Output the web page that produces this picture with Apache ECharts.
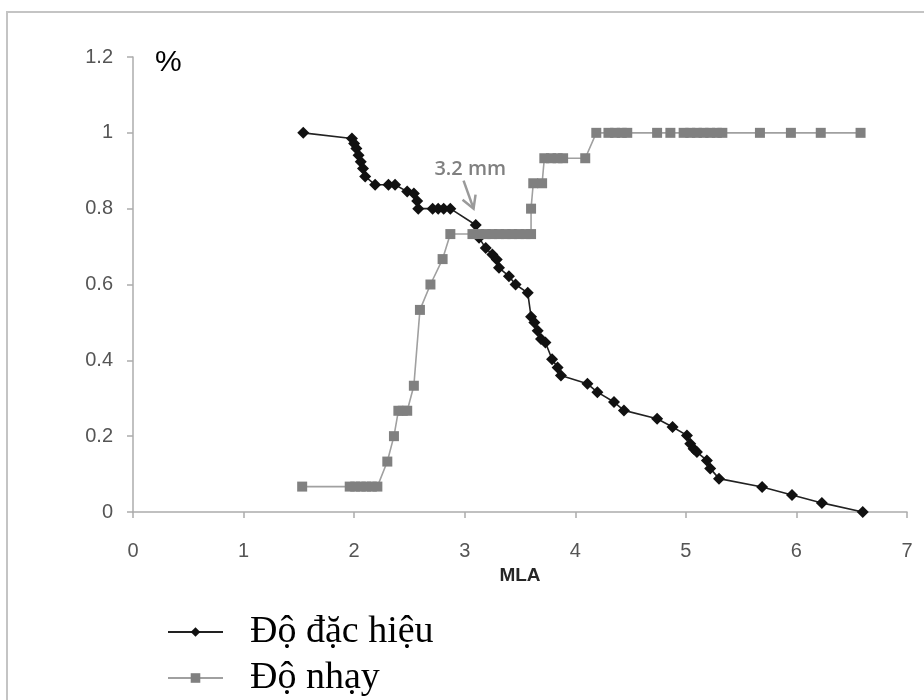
<!DOCTYPE html>
<html>
<head>
<meta charset="utf-8">
<script src="https://cdn.jsdelivr.net/npm/echarts@6/dist/echarts.min.js"></script>
<style>
  html, body { margin: 0; padding: 0; background: #fff; }
  #chart { width: 924px; height: 700px; }
</style>
</head>
<body>
<div id="chart"></div>
<script>
// MLA cut-off values (mm) and the corresponding specificity / sensitivity
const specificityMLA = [1.54, 1.98, 2.00, 2.02, 2.04, 2.06, 2.08, 2.10, 2.19, 2.31, 2.37, 2.48, 2.54, 2.57, 2.58,
  2.71, 2.76, 2.81, 2.87, 3.10, 3.13, 3.19, 3.25, 3.29, 3.31, 3.40, 3.46, 3.57, 3.60, 3.63, 3.66, 3.69, 3.73,
  3.79, 3.84, 3.87, 4.11, 4.20, 4.35, 4.44, 4.74, 4.88, 5.01, 5.04, 5.07, 5.10, 5.19, 5.22, 5.30, 5.69, 5.96,
  6.23, 6.60];
const specificity = [1.0, 0.985, 0.972, 0.959, 0.941, 0.924, 0.906, 0.885, 0.863, 0.863, 0.863, 0.845, 0.84, 0.82, 0.80,
  0.80, 0.80, 0.80, 0.80, 0.757, 0.723, 0.696, 0.679, 0.666, 0.644, 0.622, 0.60, 0.578, 0.515, 0.50, 0.478, 0.456, 0.447,
  0.403, 0.381, 0.36, 0.338, 0.316, 0.29, 0.268, 0.246, 0.224, 0.202, 0.18, 0.167, 0.158, 0.136, 0.115, 0.088, 0.066, 0.045,
  0.024, 0.0];

const sensitivityMLA = [1.53, 1.96, 2.01, 2.06, 2.11, 2.16, 2.21, 2.30, 2.36, 2.40, 2.44, 2.48, 2.54, 2.595, 2.69,
  2.80, 2.87, 3.07, 3.13, 3.19, 3.25, 3.31, 3.37, 3.43, 3.49, 3.55, 3.60, 3.60, 3.62, 3.70, 3.72, 3.78, 3.84,
  3.89, 4.09, 4.19, 4.30, 4.36, 4.42, 4.47, 4.74, 4.86, 4.98, 5.04, 5.10, 5.16, 5.22, 5.28, 5.33, 5.67, 5.95,
  6.22, 6.58];
const sensitivity = [0.067, 0.067, 0.067, 0.067, 0.067, 0.067, 0.067, 0.133, 0.20, 0.267, 0.267, 0.267, 0.333, 0.533, 0.60,
  0.667, 0.733, 0.733, 0.733, 0.733, 0.733, 0.733, 0.733, 0.733, 0.733, 0.733, 0.733, 0.80, 0.867, 0.867, 0.933, 0.933, 0.933,
  0.933, 0.933, 1, 1, 1, 1, 1, 1, 1, 1, 1, 1, 1, 1, 1, 1, 1, 1,
  1, 1];

const seriesNames = ['Độ đặc hiệu', 'Độ nhạy'];
const xTicks = { min: 0, max: 7, interval: 1 };
const yTicks = { min: 0, max: 1.2, interval: 0.2 };
const cutoff = { label: '3.2 mm', x: 3.05, yText: 0.905, yTip: 0.80 };

const pairs = (xs, ys) => xs.map((x, i) => [x, ys[i]]);

const chart = echarts.init(document.getElementById('chart'));
const axisGray = '#acacac';
const labelGray = '#555555';

chart.setOption({
  animation: false,
  backgroundColor: '#fff',
  grid: { left: 133, right: 17, top: 57, bottom: 188 },
  xAxis: {
    type: 'value',
    min: xTicks.min, max: xTicks.max, interval: xTicks.interval,
    name: 'MLA',
    nameLocation: 'middle',
    nameGap: 54,
    nameTextStyle: { fontFamily: 'Liberation Sans', fontWeight: 'bold', fontSize: 19, color: '#262626' },
    axisLine: { show: true, lineStyle: { color: axisGray, width: 1.5 } },
    axisTick: { show: true, length: 6, lineStyle: { color: axisGray, width: 1.5 } },
    axisLabel: { margin: 29, fontFamily: 'Liberation Sans', fontSize: 20, color: labelGray },
    splitLine: { show: false }
  },
  yAxis: {
    type: 'value',
    min: yTicks.min, max: yTicks.max, interval: yTicks.interval,
    axisLine: { show: true, lineStyle: { color: axisGray, width: 1.5 } },
    axisTick: { show: true, length: 6, lineStyle: { color: axisGray, width: 1.5 } },
    axisLabel: { margin: 20, fontFamily: 'Liberation Sans', fontSize: 20, color: labelGray },
    splitLine: { show: false }
  },
  legend: {
    orient: 'vertical',
    left: 167,
    top: 613,
    padding: 0,
    itemWidth: 55,
    itemHeight: 12,
    itemGap: 8,
    textStyle: {
      fontFamily: 'Liberation Serif', fontSize: 38, lineHeight: 38, color: '#000',
      padding: [0, 0, 0, 22]
    },
    data: seriesNames
  },
  series: [
    {
      name: seriesNames[0],
      type: 'line',
      data: pairs(specificityMLA, specificity),
      symbol: 'diamond',
      symbolSize: 12,
      itemStyle: { color: '#111' },
      lineStyle: { color: '#222', width: 1.6 },
      z: 2
    },
    {
      name: seriesNames[1],
      type: 'line',
      data: pairs(sensitivityMLA, sensitivity),
      symbol: 'rect',
      symbolSize: 10,
      itemStyle: { color: '#808080' },
      lineStyle: { color: '#a0a0a0', width: 1.6 },
      z: 3
    }
  ]
});

// Frame, the "%" unit label and the cut-off annotation
const textPt = chart.convertToPixel({ gridIndex: 0 }, [cutoff.x, cutoff.yText]);
const tipPt = chart.convertToPixel({ gridIndex: 0 }, [cutoff.x + 0.03, cutoff.yTip]);
const topPt = chart.convertToPixel({ gridIndex: 0 }, [xTicks.min, yTicks.max]);
const tailX = tipPt[0] - 10, tailY = tipPt[1] - 28;

chart.setOption({
  graphic: [
    {
      type: 'rect', silent: true, z: -1,
      shape: { x: 7, y: 12, width: 940, height: 720 },
      style: { fill: 'none', stroke: '#c4c4c4', lineWidth: 2 }
    },
    {
      type: 'text',
      x: topPt[0] + 22, y: topPt[1] + 6,
      style: { text: '%', fontFamily: 'Liberation Sans', fontSize: 30, fill: '#000', verticalAlign: 'middle' }
    },
    {
      type: 'text',
      x: textPt[0], y: textPt[1],
      style: { text: cutoff.label, fontFamily: 'Open Sans', fontSize: 20, fontWeight: 600, fill: '#808080', align: 'center', verticalAlign: 'middle' }
    },
    {
      type: 'polyline',
      shape: { points: [[tailX, tailY], [tipPt[0], tipPt[1]]] },
      style: { stroke: '#9a9a9a', lineWidth: 2.5, fill: 'none' }
    },
    {
      type: 'polyline',
      shape: { points: [[tipPt[0] - 11, tipPt[1] - 9], [tipPt[0], tipPt[1]], [tipPt[0] + 2, tipPt[1] - 14]] },
      style: { stroke: '#9a9a9a', lineWidth: 2.5, fill: 'none', lineJoin: 'miter' }
    }
  ]
});
</script>
</body>
</html>
